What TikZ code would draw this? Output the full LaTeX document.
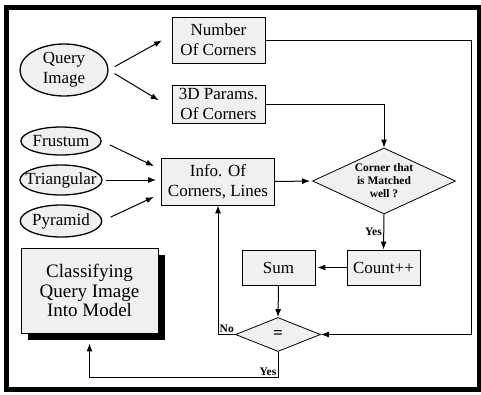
\documentclass[tikz,border=0pt]{standalone}
\usepackage{fontspec}
\setmainfont{Liberation Serif}
\usetikzlibrary{shapes.geometric,arrows.meta,shadows}

\tikzset{
  oval/.style={draw,ellipse,line width=1.3pt,fill=gray!12,inner sep=0pt,align=center,font=\fontsize{17}{20}\selectfont},
  box/.style={draw,rectangle,line width=0.8pt,fill=gray!12,inner sep=0pt,align=center,font=\fontsize{17}{20}\selectfont},
  test/.style={draw,diamond,line width=0.8pt,fill=gray!12,inner sep=0pt,align=center},
  arr/.style={-{Latex[length=8pt,width=6pt]},line width=1pt},
  lbl/.style={font=\bfseries\fontsize{11.5}{13}\selectfont,inner sep=1.5pt}
}

\begin{document}
\begin{tikzpicture}[x=1pt,y=-1pt]
\useasboundingbox (0,0) rectangle (481,394);
\draw[line width=5pt] (6,7.5) rectangle (479,389);

% Inputs
\node[oval,minimum width=88pt,minimum height=52pt] (query) at (64,70) {Query\\Image};
\node[oval,minimum width=78pt,minimum height=28pt] (frustum) at (61,141) {Frustum};
\node[oval,minimum width=82pt,minimum height=30pt,inner xsep=-7pt] (triang) at (61,180) {Triangular};
\node[oval,minimum width=78pt,minimum height=32pt] (pyramid) at (61,221) {Pyramid};

% Process boxes
\node[box,minimum width=93pt,minimum height=46pt] (number) at (218.5,40) {Number\\Of Corners};
\node[box,minimum width=93pt,minimum height=38pt] (params) at (218.5,104) {3D Params.\\Of Corners};
\node[box,minimum width=113pt,minimum height=47pt] (info) at (218,181.5) {Info. Of\\Corners, Lines};
\node[test,minimum width=143pt,minimum height=66pt,aspect=2.2,font=\bfseries\fontsize{11.5}{13}\selectfont] (match) at (384,181) {Corner that\\is Matched\\well ?};
\node[box,minimum width=73pt,minimum height=35pt] (count) at (383.5,267.5) {Count++};
\node[box,minimum width=73pt,minimum height=35pt] (sum) at (278.5,267.5) {Sum};
\node[test,minimum width=85pt,minimum height=34pt,aspect=2.5,font=\bfseries\fontsize{17}{20}\selectfont] (equal) at (278,334.5) {=};
\node[box,minimum width=137pt,minimum height=85pt,font=\fontsize{19}{19.5}\selectfont,
  drop shadow={shadow xshift=7pt,shadow yshift=-7pt,fill=black,opacity=1}] (classify) at (89.5,290.5) {Classifying\\Query Image\\Into Model};

% Turning points
\coordinate (rturn) at (471,0);
\coordinate (bturn) at (0,377);

% Connections
\draw[arr,shorten <=7pt,shorten >=11pt] (query.east) -- ([yshift=5pt]number.west);
\draw[arr,shorten <=7pt,shorten >=15pt] (query.east) -- ([yshift=-4pt]params.west);
\draw[arr,shorten <=9pt,shorten >=8pt] (frustum.east) -- ([yshift=12pt]info.west);
\draw[arr,shorten <=3pt,shorten >=5pt] (triang.east) -- (triang.east -| info.west);
\draw[arr,shorten <=9pt,shorten >=8pt] (pyramid.east) -- ([yshift=-12pt]info.west);
\draw[arr,shorten >=2pt] (info.east) -- (match.west);
\draw[arr] (params.east) -| (match.north);
\draw[arr] (number.east) -- (number.east -| rturn) |- (equal.east);
\draw[arr] (match.south) -- node[lbl,left] (yes1) {Yes} (count.north);
\draw[arr,shorten >=2pt] (count.west) -- (sum.east);
\draw[arr] (sum.south) -- (equal.north);
\draw[arr] (equal.west) -| (info.south);
\draw[arr,shorten >=10pt] (equal.south) |- (bturn -| classify.south) -- (classify.south);

% Labels
\node[lbl,anchor=south west] (no) at (equal.west -| info.south) {No};
\node[lbl,anchor=south east] (yes2) at (equal.south |- bturn) {Yes};
\end{tikzpicture}
\end{document}
